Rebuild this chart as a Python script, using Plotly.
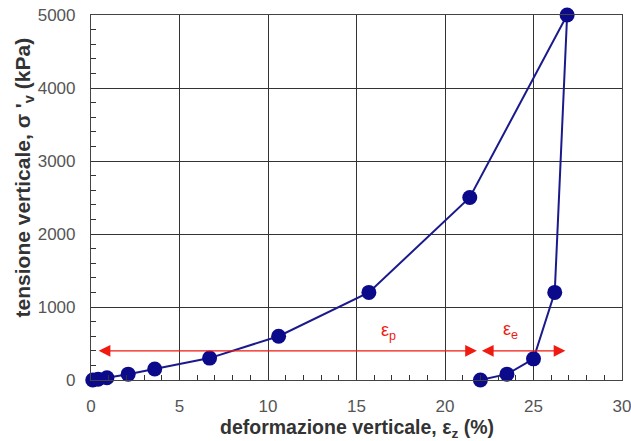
import plotly.graph_objects as go

# loading + unloading path
strain = [0.1, 0.4, 0.9, 2.1, 3.6, 6.7, 10.6, 15.7, 21.4, 26.9, 26.2, 25.0, 23.5, 22.0]
stress = [0, 10, 30, 80, 150, 300, 600, 1200, 2500, 5000, 1200, 290, 80, 0]

# arrows (strain start, strain end) at stress level
arrow_y = 400
ep_range = [0.35, 21.8]
ee_range = [22.0, 26.8]
label_ep = [16.8, 660]
label_ee = [23.7, 680]

fig = go.Figure()
fig.add_trace(go.Scatter(
    x=strain, y=stress, mode="lines+markers",
    line=dict(color="#1a1a8c", width=2),
    marker=dict(color="#0a0a8a", size=15),
    showlegend=False, cliponaxis=False))

red = "#f01a10"
for rng in (ep_range, ee_range):
    fig.add_annotation(x=rng[1], y=arrow_y, ax=rng[0], ay=arrow_y,
                       xref="x", yref="y", axref="x", ayref="y",
                       text="", showarrow=True, arrowhead=2, startarrowhead=2,
                       arrowside="end+start", arrowsize=1.8, startarrowsize=1.8,
                       arrowwidth=1.3, arrowcolor=red)
fig.add_annotation(x=label_ep[0], y=label_ep[1], text="ε<sub>p</sub>", showarrow=False,
                   font=dict(color=red, size=18, family="Liberation Sans"))
fig.add_annotation(x=label_ee[0], y=label_ee[1], text="ε<sub>e</sub>", showarrow=False,
                   font=dict(color=red, size=18, family="Liberation Sans"))

# axis titles as annotations for precise placement
fig.add_annotation(xref="paper", yref="paper", x=0, y=0.555, xshift=-67,
                   xanchor="center", yanchor="middle", textangle=-90, showarrow=False,
                   text="<b>tensione verticale, σ '<sub>v</sub> (kPa)</b>",
                   font=dict(family="Liberation Sans", size=21, color="#333"))
fig.add_annotation(xref="paper", yref="paper", x=0.5, y=0, yshift=-48,
                   xanchor="center", yanchor="middle", showarrow=False,
                   text="<b>deformazione verticale, ε<sub>z</sub> (%)</b>",
                   font=dict(family="Liberation Sans", size=19.5, color="#333"))

axis_common = dict(
    showline=True, linecolor="#444", linewidth=1.2, mirror=True,
    showgrid=True, gridcolor="#333", gridwidth=1,
    zeroline=False, ticks="", automargin=False, ticklabeloverflow="allow",
    tickfont=dict(family="Liberation Sans", size=17, color="#555"),
)
fig.update_xaxes(range=[0, 30], dtick=5, ticklabelstandoff=10,
                 minor=dict(dtick=1, ticks="inside", ticklen=5, tickcolor="#333", showgrid=False),
                 **axis_common)
fig.update_yaxes(range=[0, 5000], dtick=1000, ticklabelstandoff=11,
                 minor=dict(dtick=200, ticks="inside", ticklen=5, tickcolor="#333", showgrid=False),
                 **axis_common)
fig.update_layout(width=631, height=441, margin=dict(l=91, r=9, t=15, b=61),
                  plot_bgcolor="white", paper_bgcolor="white")
fig.write_html("out.html")
